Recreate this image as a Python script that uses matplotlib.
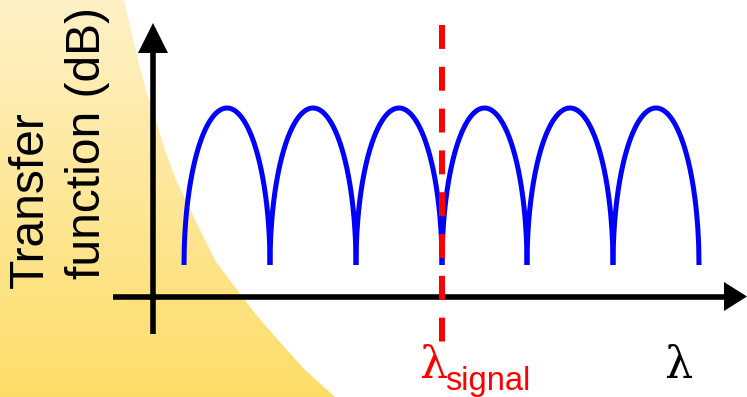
import numpy as np
from matplotlib import pyplot as plt
from matplotlib.patches import Polygon

# everything is laid out in pixel units of the 747x397 picture (y downwards)
edges = [184, 270, 356, 442, 527, 613, 699]   # feet of the six arches
base_y = 265
peak_y = 108
signal_x = 442

# left boundary of the yellow backdrop
bg_x = [124, 131, 138, 146, 155, 165, 176, 188, 200, 216, 238, 258, 278, 305, 335]
bg_y = [0, 30, 60, 90, 118, 150, 180, 205, 230, 262, 291, 317, 340, 370, 397]
bg_top = (1.0, 0.945, 0.78)
bg_bottom = (0.992, 0.867, 0.41)

fig = plt.figure(figsize=(7.47, 3.97), dpi=100)
ax = fig.add_axes([0, 0, 1, 1])
ax.set_xlim(0, 747)
ax.set_ylim(397, 0)
ax.axis('off')

# yellow gradient backdrop, clipped to the curved region
grad = np.linspace(0, 1, 256)[:, None, None]
img = (1 - grad) * np.array(bg_top) + grad * np.array(bg_bottom)
im = ax.imshow(img, extent=(0, 400, 397, 0), aspect='auto', zorder=0)
shape = Polygon(list(zip([0] + bg_x + [0], [0] + bg_y + [397])),
                closed=True, facecolor='none', edgecolor='none')
ax.add_patch(shape)
im.set_clip_path(shape)

# axes with arrow heads
ax.plot([153, 153], [52, 334], color='black', lw=4, solid_capstyle='butt', zorder=2)
ax.plot([113, 726], [296.5, 296.5], color='black', lw=4, solid_capstyle='butt', zorder=2)
ax.add_patch(Polygon([(153, 23), (138, 53), (168, 53)], closed=True,
                     facecolor='black', edgecolor='none', zorder=2))
ax.add_patch(Polygon([(747, 296.5), (724, 282), (724, 311)], closed=True,
                     facecolor='black', edgecolor='none', zorder=2))

# arches of the transfer function
for left, right in zip(edges[:-1], edges[1:]):
    c = (left + right) / 2
    a = (right - left) / 2
    x = np.linspace(left, right, 300)
    u = np.clip((x - c) / a, -1, 1)
    y = base_y - (base_y - peak_y) * np.sqrt(1 - u**2)
    ax.plot(x, y, color='#0000ff', lw=3.6, solid_capstyle='butt', zorder=3)

# signal wavelength marker
ax.plot([signal_x, signal_x], [25, 343], color='#ff0000', lw=4.3,
        linestyle=(0, (4.0, 3.0)), dash_capstyle='butt', zorder=4)

# labels
ax.text(43, 200, 'Transfer', rotation=90, rotation_mode='anchor',
        ha='center', va='baseline', fontsize=34.5, family='Liberation Sans')
ax.text(100, 143, 'function (dB)', rotation=90, rotation_mode='anchor',
        ha='center', va='baseline', fontsize=34.5, family='Liberation Sans')
ax.text(664, 378, 'λ', ha='left', va='baseline', fontsize=32,
        family='DejaVu Serif', color='black')
ax.text(419, 378, 'λ', ha='left', va='baseline', fontsize=32,
        family='DejaVu Serif', color='#ff0000')
ax.text(445, 390, 'signal', ha='left', va='baseline', fontsize=23.5,
        family='Liberation Sans', color='#ff0000')

fig.savefig('out.png', dpi=100)
